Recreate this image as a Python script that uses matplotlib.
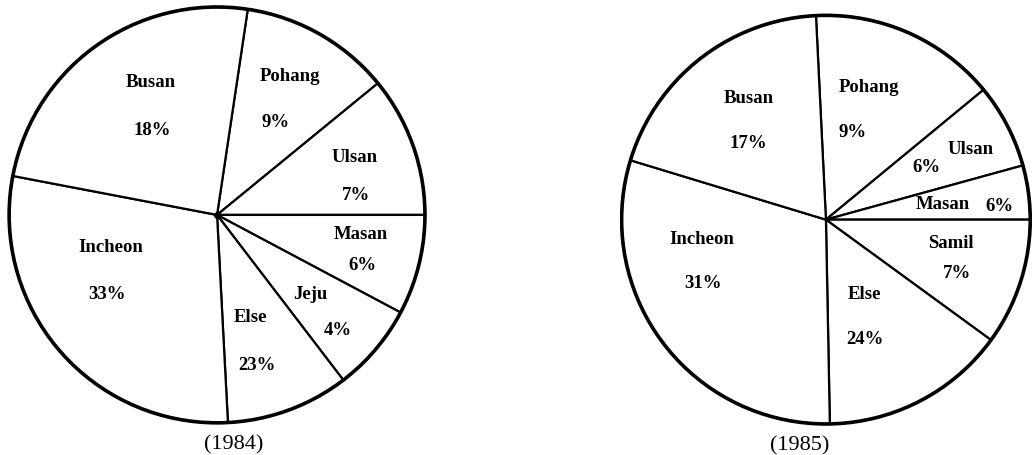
import numpy as np
import matplotlib
matplotlib.use('Agg')
import matplotlib.pyplot as plt
from matplotlib.patches import Circle

plt.rcParams['font.family'] = ['Liberation Serif', 'DejaVu Serif']

# 1984, clockwise from the top
ports_84 = ['Pohang', 'Ulsan', 'Masan', 'Jeju', 'Else', 'Incheon', 'Busan']
share_84 = [9, 7, 6, 4, 23, 33, 18]
# sector sizes as printed in the source (degrees, not to scale with the %)
sector_84 = [42.2, 39.3, 28.0, 24.6, 34.4, 103.8, 87.7]

# 1985
ports_85 = ['Pohang', 'Ulsan', 'Masan', 'Samil', 'Else', 'Incheon', 'Busan']
share_85 = [9, 6, 6, 7, 24, 31, 17]
sector_85 = [53.3, 24.1, 15.4, 36.1, 52.8, 108.0, 70.3]

# label anchors (name, percent) in units of the pie radius
pos_84 = [((0.35, 0.67), (0.28, 0.45)),
          ((0.66, 0.28), (0.67, 0.10)),
          ((0.69, -0.09), (0.70, -0.24)),
          ((0.45, -0.38), (0.58, -0.55)),
          ((0.16, -0.49), (0.19, -0.72)),
          ((-0.51, -0.15), (-0.53, -0.38)),
          ((-0.32, 0.64), (-0.31, 0.41))]
pos_85 = [((0.21, 0.65), (0.13, 0.43)),
          ((0.71, 0.35), (0.49, 0.26)),
          ((0.57, 0.08), (0.85, 0.07)),
          ((0.61, -0.11), (0.64, -0.26)),
          ((0.19, -0.36), (0.19, -0.58)),
          ((-0.61, -0.09), (-0.60, -0.31)),
          ((-0.38, 0.60), (-0.38, 0.38))]

fig = plt.figure(figsize=(10.35, 4.56), dpi=100)


def draw(rect, names, shares, sectors, n_above, pos, year, cap_x, dot=False):
    ax = fig.add_axes(rect)
    ax.pie(sectors, startangle=sum(sectors[:n_above]), counterclock=False,
           colors=['white'] * len(sectors), radius=1.0,
           wedgeprops=dict(edgecolor='black', linewidth=1.6))
    ax.add_patch(Circle((0, 0), 1.0, fill=False, edgecolor='black', lw=2.6))
    if dot:
        ax.plot(0, 0, 'o', color='black', ms=4)
    for nm, sh, (p1, p2) in zip(names, shares, pos):
        ax.text(p1[0], p1[1], nm, ha='center', va='center', fontsize=13.5,
                fontweight='bold')
        ax.text(p2[0], p2[1], '%d%%' % sh, ha='center', va='center',
                fontsize=13.5, fontweight='bold')
    ax.text(cap_x, -1.1, '(%d)' % year, ha='center', va='center', fontsize=16,
            clip_on=False)
    ax.set_xlim(-1.01, 1.01)
    ax.set_ylim(-1.01, 1.01)
    ax.set_aspect('equal')
    ax.axis('off')
    return ax


draw([0.0067, 0.066, 0.406, 0.921], ports_84, share_84, sector_84, 2, pos_84,
     1984, 0.08, dot=True)
draw([0.597, 0.0636, 0.402, 0.905], ports_85, share_85, sector_85, 3, pos_85,
     1985, -0.13)

plt.savefig('out.png', dpi=100)
